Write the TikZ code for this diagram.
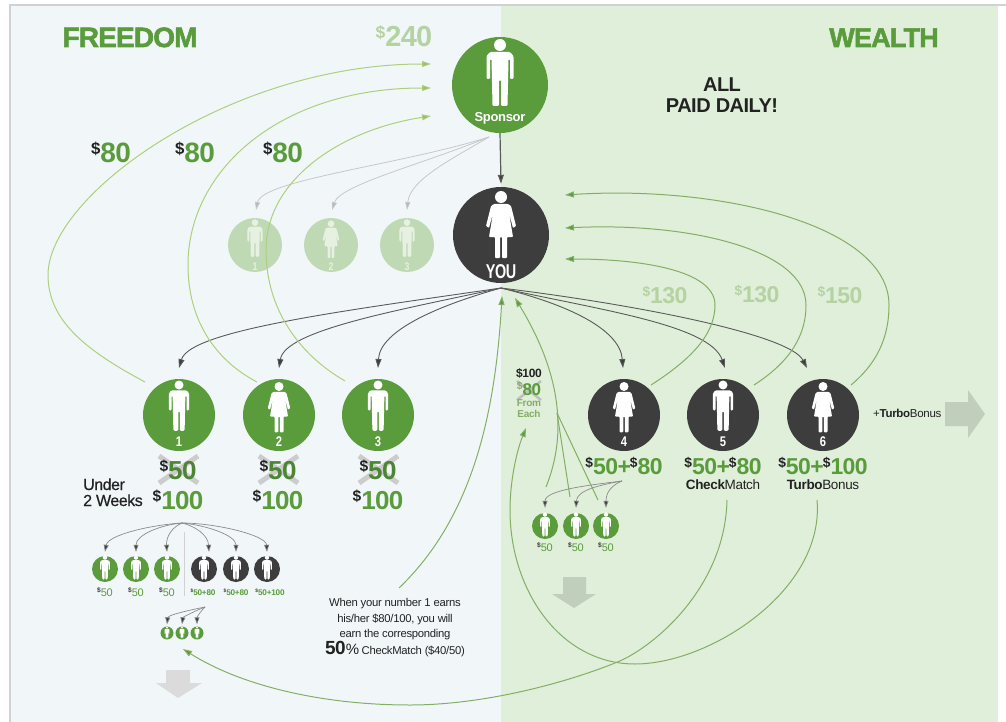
\documentclass[tikz,border=0pt]{standalone}
\usepackage{fontspec}
\usetikzlibrary{arrows.meta,shapes.geometric}
\setmainfont[LetterSpace=-2.5]{Liberation Sans}
\newfontfamily\heavy[LetterSpace=-3,FakeBold=2,BoldFont={Liberation Sans Bold}]{Liberation Sans Bold}
\newfontfamily\semi[LetterSpace=-3,FakeBold=0.5]{Liberation Sans}
\definecolor{grn}{HTML}{5A9C3C}
\definecolor{dk}{HTML}{3D3D3D}
\definecolor{ghost}{HTML}{BFD9B4}
\definecolor{ghosticon}{HTML}{E6F1E1}
\definecolor{lime}{HTML}{AECF7E}
\definecolor{rgreen}{HTML}{84AE66}
\definecolor{leftbg}{HTML}{F1F7F9}
\definecolor{rightbg}{HTML}{E0EFD9}
\definecolor{faded}{HTML}{B5D2A2}
\definecolor{txt}{HTML}{222222}
\newcommand{\mn}[4]{{\fontsize{#1}{#1}\selectfont\bfseries{\fontsize{\fpeval{#1*.6}}{#1}\selectfont\raisebox{\fpeval{#1*.3}pt}{\textcolor{#2}{\$}}}\textcolor{#3}{#4}}}
\newcommand{\fs}[1]{\fontsize{#1}{#1}\selectfont}
\tikzset{
  x=1pt,y=-1pt,
  pics/man/.style={code={
    \fill[#1] (0,-40) circle (6);
    \fill[#1,rounded corners=1.2pt] (-10,-33)--(10,-33)--(13.5,-29)--(13.5,-6)--(10,-6)--(10,-26)--(8.5,-26)--(7.5,21)--(1,21)--(1,-5)--(-1,-5)--(-1,21)--(-7.5,21)--(-8.5,-26)--(-10,-26)--(-10,-6)--(-13.5,-6)--(-13.5,-29)--cycle;
  }},
  pics/woman/.style={code={
    \fill[#1] (0,-38) circle (6);
    \fill[#1,rounded corners=.8pt] (-7,-31)--(7,-31)--(10,-29)--(15,-9)--(12,-7)--(8,-22)--(12,2)--(6,2)--(6,23)--(1,23)--(1,2)--(-1,2)--(-1,23)--(-6,23)--(-6,2)--(-12,2)--(-8,-22)--(-12,-7)--(-15,-9)--(-10,-29)--cycle;
  }},
  circ/.style={circle,inner sep=0pt,minimum size=#1,fill=grn},
  big/.style={circ=72pt},
  smallc/.style={circ=26pt},
  tiny/.style={circ=13pt},
  lbl/.style={inner sep=0pt,anchor=base,align=center},
  darkarrow/.style={draw=dk!85,line width=.9pt,-{Triangle[length=9pt,width=6pt,fill=dk]}},
  thinarrow/.style={draw=dk!60,line width=.7pt,-{Triangle[length=7pt,width=5pt,fill=dk]}},
  greyarrow/.style={draw=black!22,line width=.8pt,-{Triangle[length=8pt,width=5pt,fill=black!28]}},
  limearrow/.style={draw=lime,line width=1pt,-{Triangle[length=9pt,width=6pt,fill=lime!90!black]}},
  rarrow/.style={draw=rgreen,line width=1pt,-{Triangle[length=9pt,width=6pt,fill=grn]}},
  rline/.style={draw=rgreen,line width=1pt},
  cross/.style={draw=black!20,line width=5pt},
}
\begin{document}
\begin{tikzpicture}
\useasboundingbox (0,0) rectangle (1006,722);
\fill[white] (0,0) rectangle (1006,722);
\fill[leftbg] (10,6) rectangle (501,722);
\fill[rightbg] (501,6) rectangle (998,722);
\draw[black!18,line width=1.6pt] (10,722)--(10,5)--(1006,5);
% titles
\node[lbl,text=grn] (freedom) at (130,47) {\fs{28}\heavy FREEDOM};
\node[lbl,text=grn] (wealth) at (884,47) {\fs{27}\heavy WEALTH};
\node[lbl,text=txt] (allpaid) at (722,92) {\fs{20}\bfseries ALL};
\node[lbl,text=txt] (allpaid2) at (722,113) {\fs{20}\bfseries PAID DAILY!};
\node[lbl] (m240) at (404,47) {\mn{29}{faded}{faded}{240}};
\node[lbl] (m80a) at (111,163) {\mn{28}{txt}{grn}{80}};
\node[lbl] (m80b) at (195,163) {\mn{28}{txt}{grn}{80}};
\node[lbl] (m80c) at (283,163) {\mn{28}{txt}{grn}{80}};
\node[lbl] (m130a) at (665,303) {\mn{23}{faded}{faded}{130}};
\node[lbl] (m130b) at (757,302) {\mn{23}{faded}{faded}{130}};
\node[lbl] (m150) at (840,303) {\mn{23}{faded}{faded}{150}};
% big arrows
\fill[black!14] (166,670)--(190,670)--(190,683)--(202,683)--(178,698)--(156,683)--(166,683)--cycle;
\fill[black!14!rightbg] (563,577)--(586,577)--(586,594)--(596,594)--(574,608)--(552,594)--(563,594)--cycle;
\fill[black!14!rightbg] (945,402)--(968,402)--(968,390)--(985,414)--(968,438)--(968,426)--(945,426)--cycle;
% main circles
\node[circ=96pt] (sponsor) at (500,85) {};
\pic at (sponsor) {man=white};
\node[lbl,text=white] (sponsorl) at (500,122) {\fs{13}\bfseries Sponsor};
\node[circ=96pt,fill=dk] (you) at (501,235) {};
\pic at (you) {woman=white};
\node[lbl,text=white,xscale=.72] (youl) at (501,278) {\fs{20}\bfseries YOU};
% ghosts
\foreach \n/\x/\k in {1/255/man,2/331/woman,3/407/man}{
  \node[circ=54pt,fill=ghost] (g\n) at (\x,245) {};
  \pic[scale=.56] at (g\n) {\k=ghosticon};
  \node[lbl,text=ghosticon,xscale=.8] (gl\n) at (\x,270) {\fs{11}\bfseries \n};
}
% big numbered circles
\foreach \n/\x/\k/\c in {1/179/man/grn,2/279/woman/grn,3/378/man/grn,4/624/woman/dk,5/723/man/dk,6/823/woman/dk}{
  \node[big,fill=\c] (n\n) at (\x,415) {};
  \pic[scale=.75] at (n\n) {\k=white};
  \node[lbl,text=white,xscale=.8] (nl\n) at (\x,446) {\fs{14}\bfseries \n};
}
% small rows
\foreach \n/\x/\c/\k/\t in {a/105/grn/man/50,b/136/grn/man/50,c/167/grn/man/50}{
  \node[smallc,fill=\c] (s\n) at (\x,569) {};
  \pic[scale=.36] at ([yshift=-3pt]s\n) {\k=white};
  \node[lbl] (sl\n) at (\x,596) {\mn{11}{dk}{grn}{\mdseries\t}};
}
\foreach \n/\x/\k/\t in {d/204/man/50+80,e/236/man/50+80,f/267/man/50+100}{
  \node[smallc,fill=dk] (s\n) at (\x,569) {};
  \pic[scale=.36] at ([yshift=-3pt]s\n) {\k=white};
}
\node[lbl] (sld) at (203,595) {\mn{8.2}{dk}{grn}{50+80}};
\node[lbl] (sle) at (236,595) {\mn{8.2}{dk}{grn}{50+80}};
\node[lbl] (slf) at (270,595) {\mn{8.2}{dk}{grn}{50+100}};
\coordinate (divt) at (184,532);
\coordinate (divb) at (184,596);
\draw[black!18,line width=.8pt] (divt)--(divb);
\foreach \n/\x in {a/167,b/182,c/197}{
  \node[tiny] (t\n) at (\x,633) {};
  \pic[scale=.17] at ([yshift=-1.5pt]t\n) {man=white};
}
\foreach \n/\x in {a/545,b/576,c/606}{
  \node[smallc] (r\n) at (\x,526) {};
  \pic[scale=.36] at ([yshift=-3pt]r\n) {man=white};
  \node[lbl] (rl\n) at (\x,551) {\mn{11}{dk}{grn}{\mdseries 50}};
}
% money under numbered
\foreach \n/\x in {1/178,2/278,3/378}{
  \draw[cross] (\x-19,456)--(\x+20,483) (\x-19,483)--(\x+20,456);
  \node[lbl] (p\n) at (\x,479) {\mn{26}{txt}{grn!85!black}{50}};
  \node[lbl] (q\n) at (\x,509) {\mn{26}{txt}{grn}{100}};
}
\node[lbl,align=left,anchor=base west,text=txt] (under) at (83,490) {\fs{16}\semi Under};
\node[lbl,align=left,anchor=base west,text=txt] (weeks) at (83,506) {\fs{16}\semi 2 Weeks};
\node[lbl] (m4) at (624,474) {\mn{23}{txt}{grn}{50+}\hspace{-1pt}\mn{23}{txt}{grn}{80}};
\node[lbl] (m5) at (723,474) {\mn{23}{txt}{grn}{50+}\hspace{-1pt}\mn{23}{txt}{grn}{80}};
\node[lbl] (m6) at (823,474) {\mn{23}{txt}{grn}{50+}\hspace{-1pt}\mn{23}{txt}{grn}{100}};
\node[lbl,text=txt] (chk) at (723,489) {\fs{13.5}\textbf{Check}Match};
\node[lbl,text=txt] (trb) at (823,489) {\fs{13.5}\textbf{Turbo}Bonus};
\node[lbl,anchor=base west,text=txt] (ptrb) at (873,417) {\fs{11.5}+\textbf{Turbo}Bonus};
% from each
\node[lbl,text=txt] (e100) at (529,377) {\fs{12}\bfseries\$100};
\draw[black!25,line width=2.5pt] (517,381)--(541,400) (517,400)--(541,381);
\node[lbl] (e80) at (529,395) {\mn{17}{rgreen}{grn}{80}};
\node[lbl,text=rgreen] (efrom) at (529,406) {\fs{10}\bfseries From};
\node[lbl,text=rgreen] (eeach) at (529,417) {\fs{10}\bfseries Each};
% explanation
\node[lbl,text=txt] (ex1) at (395,606) {\fs{11.3}When your number 1 earns};
\node[lbl,text=txt] (ex2) at (395,622) {\fs{11.3}his/her \$80/100, you will};
\node[lbl,text=txt] (ex3) at (395,637) {\fs{11.3}earn the corresponding};
\node[lbl,text=txt] (ex4) at (395,654) {{\fs{19}\bfseries 50}{\fs{15}\%} \fs{11.3}CheckMatch (\$40/50)};
% coordinates
\coordinate (hub) at (501,288);
\coordinate (shub) at (489,137);
\coordinate (hubin1) at (502,296);
\coordinate (hubin2) at (515,298);
\coordinate (g1t) at (256,210);
\coordinate (g2t) at (332,210);
\coordinate (g3t) at (407,210);
\coordinate (t1) at (179,368);
\coordinate (t2) at (279,368);
\coordinate (t3) at (378,368);
\coordinate (t4) at (623,368);
\coordinate (t5) at (725,368);
\coordinate (t6) at (807,368);
\coordinate (l1s) at (145,382);
\coordinate (l2s) at (257,382);
\coordinate (l3s) at (345,381);
\coordinate (l1e) at (431,64);
\coordinate (l2e) at (431,88);
\coordinate (l3e) at (431,116);
\coordinate (r4s) at (651,385);
\coordinate (r5s) at (754,385);
\coordinate (r6s) at (851,385);
\coordinate (r4e) at (565,259);
\coordinate (r5e) at (565,228);
\coordinate (r6e) at (565,195);
\coordinate (exs) at (399,588);
\coordinate (ua) at (546,487);
\coordinate (ub) at (570,497);
\coordinate (uc) at (598,500);
\coordinate (rj) at (557,413);
\coordinate (chkout) at (727,500);
\coordinate (trbout) at (817,500);
\coordinate (tinyin) at (183,649);
\coordinate (eachin) at (526,428);
\coordinate (sh) at (182,523);
\coordinate (th) at (205,607);
\coordinate (rh) at (622,481);
% connectors
\draw[darkarrow,line width=1.2pt] (sponsor.south) -- ([yshift=3pt]you.north);
\draw[greyarrow] (shub) .. controls (400,165) and (262,180) .. (g1t);
\draw[greyarrow] (shub) .. controls (420,165) and (340,185) .. (g2t);
\draw[greyarrow] (shub) .. controls (450,160) and (410,180) .. (g3t);
\draw[darkarrow] (hub) .. controls (350,310) and (190,330) .. (t1);
\draw[darkarrow] (hub) .. controls (400,310) and (285,330) .. (t2);
\draw[darkarrow] (hub) .. controls (440,305) and (380,330) .. (t3);
\draw[darkarrow] (hub) .. controls (570,305) and (620,330) .. (t4);
\draw[darkarrow] (hub) .. controls (600,310) and (710,325) .. (t5);
\draw[darkarrow] (hub) .. controls (640,305) and (790,335) .. (t6);
\draw[limearrow] (l1s) .. controls (85,350) and (48,320) .. (48,275) .. controls (48,195) and (230,64) .. (l1e);
\draw[limearrow] (l2s) .. controls (215,360) and (188,320) .. (188,265) .. controls (188,170) and (280,88) .. (l2e);
\draw[limearrow] (l3s) .. controls (300,355) and (266,310) .. (266,250) .. controls (266,180) and (340,130) .. (l3e);
\draw[rarrow] (r4s) .. controls (690,360) and (715,335) .. (715,305) .. controls (715,270) and (640,259) .. (r4e);
\draw[rarrow] (r5s) .. controls (785,365) and (806,340) .. (806,305) .. controls (806,250) and (690,222) .. (r5e);
\draw[rarrow] (r6s) .. controls (875,365) and (889,340) .. (889,305) .. controls (889,225) and (720,185) .. (r6e);
\draw[rarrow] (exs) .. controls (470,520) and (495,420) .. (hubin1);
\draw[rarrow] (ua) .. controls (565,440) and (565,380) .. (hubin2);
\draw[rline] (ub) -- (rj);
\draw[rline] (uc) -- (rj);
\draw[rarrow] (chkout) .. controls (725,590) and (650,650) .. (615,663) .. controls (560,685) and (480,705) .. (410,705) .. controls (320,705) and (240,685) .. (tinyin);
\draw[rarrow] (trbout) .. controls (825,590) and (710,664) .. (635,664) .. controls (560,664) and (510,590) .. (510,510) .. controls (510,480) and (517,450) .. (eachin);
% small row arrows
\draw[thinarrow] (sh) .. controls (150,525) and (108,535) .. ([yshift=4pt]sa.north);
\draw[thinarrow] (sh) .. controls (160,525) and (136,535) .. ([yshift=4pt]sb.north);
\draw[thinarrow] (sh) .. controls (172,527) and (166,537) .. ([yshift=4pt]sc.north);
\draw[thinarrow] (sh) .. controls (195,526) and (208,535) .. ([xshift=5pt,yshift=4pt]sd.north);
\draw[thinarrow] (sh) .. controls (205,525) and (236,535) .. ([yshift=4pt]se.north);
\draw[thinarrow] (sh) .. controls (215,523) and (266,535) .. ([yshift=4pt]sf.north);
\draw[thinarrow] (th) .. controls (190,610) and (168,615) .. ([yshift=2pt]ta.north);
\draw[thinarrow] (th) .. controls (195,611) and (183,617) .. ([yshift=2pt]tb.north);
\draw[thinarrow] (th) .. controls (200,612) and (197,617) .. ([yshift=2pt]tc.north);
\draw[thinarrow] (rh) .. controls (590,485) and (545,490) .. ([yshift=5pt]ra.north);
\draw[thinarrow] (rh) .. controls (600,485) and (577,490) .. ([yshift=5pt]rb.north);
\draw[thinarrow] (rh) .. controls (612,485) and (606,492) .. ([yshift=5pt]rc.north);
\end{tikzpicture}
\end{document}
